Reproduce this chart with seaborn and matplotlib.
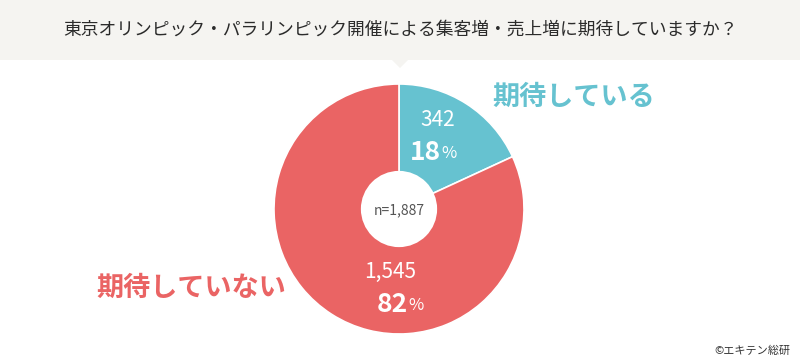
import matplotlib
matplotlib.use("Agg")
import matplotlib.pyplot as plt
import seaborn as sns
from matplotlib.patches import Rectangle, Polygon, Circle

# data
title = "東京オリンピック・パラリンピック開催による集客増・売上増に期待していますか？"
labels = ["期待している", "期待していない"]
counts = [342, 1545]
percents = [18, 82]
total = 1887
colors = ["#66c2d0", "#ea6464"]

sns.set_theme(style="white")
plt.rcParams['font.family'] = ['Noto Sans CJK JP', 'DejaVu Sans']

W, H = 800, 360
fig = plt.figure(figsize=(W / 100, H / 100), dpi=100)
fig.patch.set_facecolor("white")

# header band with small pointer
fig.patches.append(Rectangle((0, 1 - 60 / H), 1, 60 / H, transform=fig.transFigure,
                             facecolor="#f5f4f1", edgecolor="none", zorder=0))
fig.patches.append(Polygon([(392 / W, 1 - 60 / H), (408 / W, 1 - 60 / H), (400 / W, 1 - 68 / H)],
                           closed=True, transform=fig.transFigure,
                           facecolor="#f5f4f1", edgecolor="none", zorder=0))
fig.text(0.5, 1 - 30 / H, title, ha="center", va="center", fontsize=12.8, color="#2b2b2b")

# pie axes: center (399, 209) px, radius 125 px
cx, cy, r = 399, H - 209, 125
ax = fig.add_axes([(cx - r) / W, (cy - r) / H, 2 * r / W, 2 * r / H])
ax.pie(counts, colors=colors, startangle=90, counterclock=False, radius=1,
       wedgeprops=dict(edgecolor="white", linewidth=1.2))
ax.add_patch(Circle((0, 0), 0.305, facecolor="white", edgecolor="none", zorder=5))
ax.set_xlim(-1, 1)
ax.set_ylim(-1, 1)
ax.set_aspect("equal")
ax.axis("off")

def px(x, y):
    return x / W, 1 - y / H

# center total
fig.text(*px(399, 210), f"n={total:,}", ha="center", va="center", fontsize=10, color="#555555", zorder=10)

# slice values
slice_pos = [(438, 120, 441, 152), (390, 272, 408, 304)]
for (nx, ny, px_x, py), c, p in zip(slice_pos, counts, percents):
    fig.text(*px(nx, ny), f"{c:,}", ha="center", va="center", fontsize=15, color="white")
    fig.text(*px(px_x, py), f"{p}", ha="right", va="center", fontsize=19, fontweight="bold", color="white")
    fig.text(*px(px_x + 0.5, py + 2), "%", ha="left", va="center", fontsize=12, color="white")

# outer labels
fig.text(*px(574, 97), labels[0], ha="center", va="center", fontsize=19.5, fontweight="bold", color=colors[0])
fig.text(*px(191, 288), labels[1], ha="center", va="center", fontsize=19.5, fontweight="bold", color=colors[1])

fig.text(*px(790, 351), "©エキテン総研", ha="right", va="center", fontsize=8, color="#333333")

fig.savefig("out.png", dpi=100, facecolor=fig.get_facecolor())
